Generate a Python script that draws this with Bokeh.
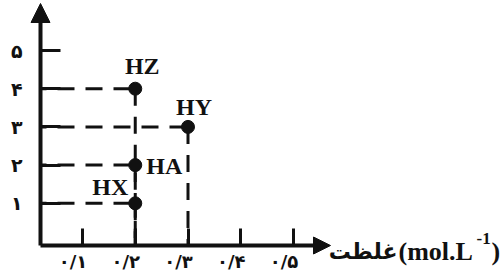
from bokeh.plotting import figure
from bokeh.models import FixedTicker, Arrow, NormalHead, Label, Range1d, ColumnDataSource
from bokeh.embed import file_html
from bokeh.resources import INLINE
from bokeh.core.properties import value

# ---- data ----
acids = ["HZ", "HY", "HA", "HX"]
conc = [0.2, 0.3, 0.2, 0.2]
strength = [4, 3, 2, 1]
x_ticks = [0.1, 0.2, 0.3, 0.4, 0.5]
x_tick_labels = ["۰/۱", "۰/۲", "۰/۳", "۰/۴", "۰/۵"]
y_ticks = [1, 2, 3, 4, 5]
y_tick_labels = ["۱", "۲", "۳", "۴", "۵"]
x_title_word = "غلظت"
x_title_unit = "(mol.L"
x_title_exp = "-1"
x_title_close = ")"

# ---- styling (label offsets in px, y down) ----
lab_dx = [7, 6, 11, -25]
lab_dy = [-23, -20, 1, -16]
lab_align = ["center", "center", "left", "center"]

INK = "#111111"
W, H = 501, 274
PX_X = 527.5          # px per concentration unit
PX_Y = 38.2           # px per strength unit


def sx(px):
    return 0.1 + (px - 82) / PX_X


def sy(px):
    return (241 - px) / PX_Y


AX_X, AX_Y = sx(40), sy(245)     # where the axes sit
TIP_X, TIP_Y = sx(330), sy(3)

p = figure(width=W, height=H, x_range=Range1d(sx(0), sx(W)), y_range=Range1d(sy(H), sy(0)),
           output_backend="svg", toolbar_location=None, min_border=0)
p.outline_line_color = None
p.xgrid.visible = False
p.ygrid.visible = False
p.background_fill_color = "white"
p.border_fill_color = "white"

for ax in (p.xaxis[0], p.yaxis[0]):
    ax.axis_line_color = None
    ax.major_tick_line_width = 3
    ax.major_tick_line_color = INK
    ax.major_tick_out = 0
    ax.minor_tick_line_color = None
    ax.major_label_text_color = INK
    ax.major_label_text_font = "DejaVu Sans"
    ax.major_label_text_font_style = "bold"

p.xaxis.fixed_location = AX_Y
p.xaxis.ticker = FixedTicker(ticks=x_ticks)
p.xaxis.major_label_overrides = {t: l + "\u00a0\u00a0\u00a0" for t, l in zip(x_ticks, x_tick_labels)}
p.xaxis.major_tick_in = 17
p.xaxis.major_label_standoff = 5
p.xaxis.major_label_text_font_size = "18px"

p.yaxis.fixed_location = AX_X
p.yaxis.ticker = FixedTicker(ticks=y_ticks)
p.yaxis.major_label_overrides = {t: l for t, l in zip(y_ticks, y_tick_labels)}
p.yaxis.major_tick_in = 20
p.yaxis.major_label_standoff = 18
p.yaxis.major_label_text_font_size = "19px"

# dashed guide lines
src = ColumnDataSource(dict(x=conc, y=strength, name=acids,
                            x0=[AX_X] * len(conc), y0=[AX_Y] * len(conc),
                            dx=lab_dx, dy=lab_dy, align=lab_align))
p.segment(x0="x0", y0="y", x1="x", y1="y", source=src, line_color=INK, line_width=3,
          line_dash="17 11", line_dash_offset=11)
p.segment(x0="x", y0="y", x1="x", y1="y0", source=src, line_color=INK, line_width=3,
          line_dash="17 11")
p.scatter(x="x", y="y", source=src, size=13, color=INK)
p.text(x="x", y="y", text="name", source=src, x_offset="dx", y_offset="dy",
       text_align="align", text_baseline="middle", text_font=value("Liberation Serif"),
       text_font_style="bold", text_font_size="24px", text_color=INK)

# axis lines with arrow heads
p.add_layout(Arrow(end=NormalHead(size=19, fill_color=INK, line_color=INK),
                   x_start=AX_X, y_start=AX_Y, x_end=AX_X, y_end=TIP_Y,
                   line_width=4, line_color=INK))
p.add_layout(Arrow(end=NormalHead(size=17, fill_color=INK, line_color=INK),
                   x_start=AX_X, y_start=AX_Y, x_end=TIP_X, y_end=AX_Y,
                   line_width=4, line_color=INK))

# axis title
title_style = dict(text_baseline="alphabetic", text_font_style="bold", text_color=INK)
p.add_layout(Label(x=sx(397), y=sy(251), text=x_title_word, text_align="right",
                   text_font="DejaVu Sans", text_font_size="22px", **title_style))
p.add_layout(Label(x=sx(398), y=sy(251), text=x_title_unit, text_align="left",
                   text_font="Liberation Serif", text_font_size="26px", **title_style))
p.add_layout(Label(x=sx(476), y=sy(238), text=x_title_exp, text_align="left",
                   text_font="Liberation Serif", text_font_size="17px", **title_style))
p.add_layout(Label(x=sx(491), y=sy(251), text=x_title_close, text_align="left",
                   text_font="Liberation Serif", text_font_size="26px", **title_style))

open("out.html", "w").write(file_html(p, INLINE))
